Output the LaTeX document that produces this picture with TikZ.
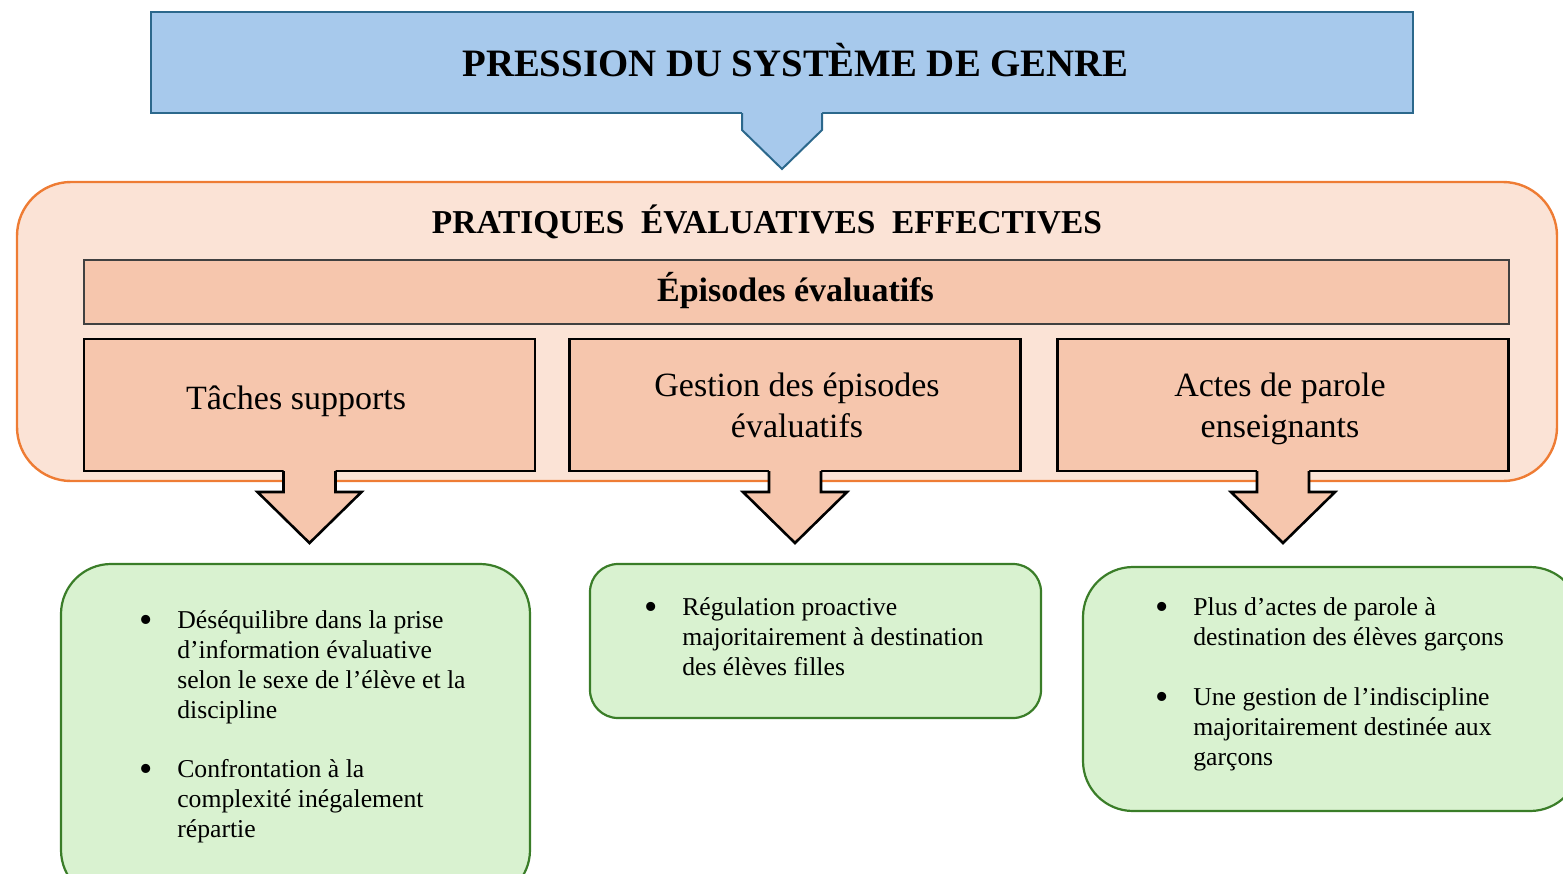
\documentclass[tikz,border=0pt]{standalone}
\usepackage{fontspec}
\setmainfont{Liberation Serif}
\usetikzlibrary{calc}
\definecolor{bluefill}{RGB}{167,201,236}
\definecolor{bluedraw}{RGB}{44,104,140}
\definecolor{orfill}{RGB}{251,227,214}
\definecolor{ordraw}{RGB}{238,124,52}
\definecolor{salmon}{RGB}{246,198,173}
\definecolor{grfill}{RGB}{217,242,208}
\definecolor{grdraw}{RGB}{58,125,40}
\newcommand{\bigbul}{\raisebox{-2.4pt}[0pt][0pt]{\fontsize{19}{15}\selectfont\textbullet}}
\newcommand{\dnarrow}[1]{%
  \fill[salmon] ($(#1.south)+(-26,-3)$) -- ($(#1.south)+(-26,21)$) -- ($(#1.south)+(-52,21)$) -- ($(#1.south)+(0,72)$) -- ($(#1.south)+(52,21)$) -- ($(#1.south)+(26,21)$) -- ($(#1.south)+(26,-3)$) -- cycle;
  \draw[arrowline] ($(#1.south)+(-26,0)$) -- ($(#1.south)+(-26,21)$) -- ($(#1.south)+(-52,21)$) -- ($(#1.south)+(0,72)$) -- ($(#1.south)+(52,21)$) -- ($(#1.south)+(26,21)$) -- ($(#1.south)+(26,0)$);}
\begin{document}
\begin{tikzpicture}[x=0.5pt,y=-0.5pt,
  every node/.style={inner sep=0pt, outer sep=0pt},
  bluebox/.style={draw=bluedraw, fill=bluefill, line width=1pt},
  orbox/.style={draw=ordraw, fill=orfill, line width=1.2pt, rounded corners=27pt},
  epbox/.style={draw=black!75, fill=salmon, line width=0.7pt},
  salbox/.style={draw=black, fill=salmon, line width=1.3pt, minimum width=225.5pt, minimum height=66pt},
  grbox/.style={draw=grdraw, fill=grfill, line width=1.1pt},
  arrowline/.style={draw=black, line width=1.3pt, line join=miter},
  boxtext/.style={font=\fontsize{17}{20.5}\selectfont, align=center},
  listtext/.style={font=\fontsize{12.85}{15}\selectfont, anchor=base west}]
\useasboundingbox (0,0) rectangle (1563,873);
\clip (0,0) rectangle (1563,873);
% top blue box
\node[bluebox, minimum width=631pt, minimum height=50.5pt] (press) at (782,62.5) {};
\fill[bluefill] ($(press.south)+(-40,-2)$) -- ($(press.south)+(-40,17)$) -- ($(press.south)+(0,56)$) -- ($(press.south)+(40,17)$) -- ($(press.south)+(40,-2)$) -- cycle;
\draw[bluedraw, line width=1pt, line join=miter] ($(press.south)+(-40,0)$) -- ($(press.south)+(-40,17)$) -- ($(press.south)+(0,56)$) -- ($(press.south)+(40,17)$) -- ($(press.south)+(40,0)$);
\node[anchor=base, font=\fontsize{19.4}{23}\selectfont\bfseries] (presstxt) at (795.5,76) {PRESSION DU SYSTÈME DE GENRE};
% orange container
\node[orbox, minimum width=770pt, minimum height=149.5pt] (prat) at (787,331.5) {};
\node[anchor=base, font=\fontsize{16.7}{20}\selectfont\bfseries] (prattxt) at (767,233) {PRATIQUES~ ÉVALUATIVES~ EFFECTIVES};
\node[epbox, minimum width=712.5pt, minimum height=32pt] (epi) at (796.5,292) {};
\node[anchor=base, font=\fontsize{17}{20}\selectfont\bfseries] (epitxt) at (795.5,301) {Épisodes évaluatifs};
% three boxes
\node[salbox] (t1) at (309.5,405) {};
\node[salbox] (t2) at (795,405) {};
\node[salbox] (t3) at (1283,405) {};
\node[boxtext, anchor=base] (t1txt) at (296,409) {Tâches supports};
\node[boxtext] (t2txt) at (797,405) {Gestion des épisodes\\évaluatifs};
\node[boxtext] (t3txt) at (1280,409) {Actes de parole\\enseignants};
% arrows
\dnarrow{t1}
\dnarrow{t2}
\dnarrow{t3}
% green boxes
\node[grbox, minimum width=234.5pt, minimum height=168pt, rounded corners=25pt] (g1) at (295.5,732) {};
\node[grbox, minimum width=225.5pt, minimum height=77pt, rounded corners=14pt] (g2) at (815.5,641) {};
\node[grbox, minimum width=248.5pt, minimum height=122pt, rounded corners=25pt] (g3) at (1331.5,689) {};
\node[listtext] (g1txt) at (139,628) {\begin{tabular}[t]{@{}l@{\hspace{12.5pt}}l@{}}
\bigbul & Déséquilibre dans la prise\\
 & d’information évaluative\\
 & selon le sexe de l’élève et la\\
 & discipline\\[14.5pt]
\bigbul & Confrontation à la\\
 & complexité inégalement\\
 & répartie
\end{tabular}};
\node[listtext] (g2txt) at (644,615) {\begin{tabular}[t]{@{}l@{\hspace{12.5pt}}l@{}}
\bigbul & Régulation proactive\\
 & majoritairement à destination\\
 & des élèves filles
\end{tabular}};
\node[listtext] (g3txt) at (1155,615) {\begin{tabular}[t]{@{}l@{\hspace{12.5pt}}l@{}}
\bigbul & Plus d’actes de parole à\\
 & destination des élèves garçons\\[15pt]
\bigbul & Une gestion de l’indiscipline\\
 & majoritairement destinée aux\\
 & garçons
\end{tabular}};
\end{tikzpicture}
\end{document}
